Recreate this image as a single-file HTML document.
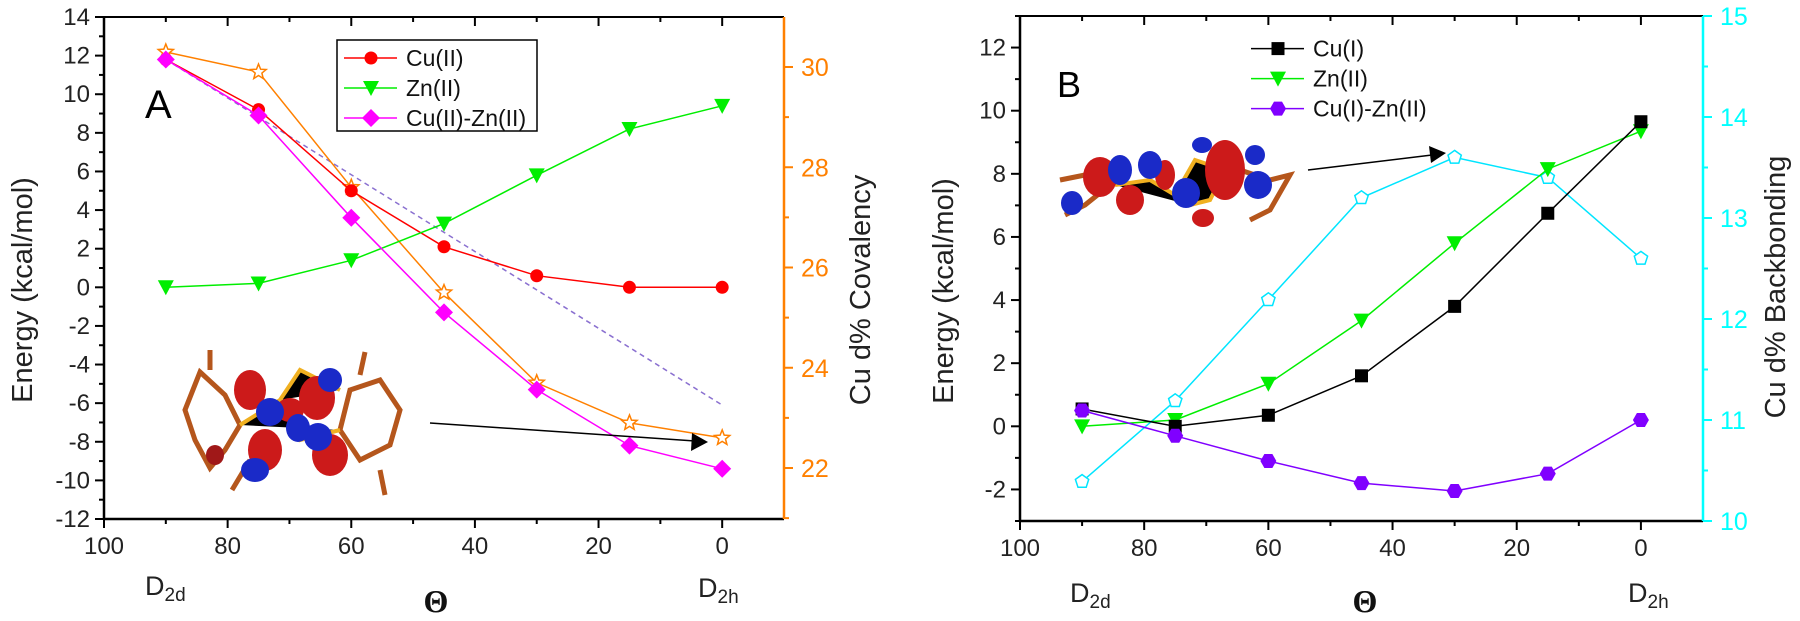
<!DOCTYPE html>
<html><head><meta charset="utf-8"><style>
body{margin:0;background:#fff}
svg{display:block;font-family:"Liberation Sans",sans-serif}
</style></head><body>
<svg id="c" width="1800" height="621" viewBox="0 0 1800 621">
<g id="molA">
 <g stroke="#b5561c" stroke-width="5" fill="none">
  <path d="M200,372 L225,395 L240,425 L225,450 L210,468 L195,440 L185,410 Z"/>
  <path d="M350,390 L380,380 L400,410 L390,445 L360,460 L340,430 Z"/>
  <path d="M210,370 L210,350 M250,460 L232,490 M360,375 L365,352 M380,470 L385,495"/>
 </g>
 <g stroke="#f0b020" stroke-width="4"><path d="M240,425 L280,400 L300,440 L340,430 M280,400 L300,370 L340,390"/></g>
 <ellipse cx="250" cy="390" rx="16" ry="20" fill="#cc1a1a"/>
 <ellipse cx="265" cy="450" rx="17" ry="21" fill="#cc1a1a"/>
 <ellipse cx="317" cy="398" rx="18" ry="22" fill="#cc1a1a"/>
 <ellipse cx="330" cy="455" rx="18" ry="21" fill="#cc1a1a"/>
 <ellipse cx="290" cy="410" rx="14" ry="12" fill="#cc1a1a"/>
 <ellipse cx="270" cy="412" rx="14" ry="14" fill="#1a2ac8"/>
 <ellipse cx="255" cy="470" rx="14" ry="12" fill="#1a2ac8"/>
 <ellipse cx="330" cy="380" rx="12" ry="12" fill="#1a2ac8"/>
 <ellipse cx="318" cy="437" rx="14" ry="14" fill="#1a2ac8"/>
 <ellipse cx="298" cy="428" rx="12" ry="14" fill="#1a2ac8"/>
 <ellipse cx="215" cy="455" rx="9" ry="10" fill="#a01818"/>
</g>
<g id="molB">
 <g stroke="#b5561c" stroke-width="5" fill="none">
  <path d="M1060,180 L1085,175 L1110,185 L1085,205 L1065,215 M1240,170 L1270,180 L1290,175 L1270,210 L1250,220"/>
 </g>
 <g stroke="#f0b020" stroke-width="4"><path d="M1115,185 L1150,180 L1175,195 L1195,160 L1225,170 L1210,200 L1190,205"/></g>
 <ellipse cx="1100" cy="177" rx="17" ry="20" fill="#cc1a1a"/>
 <ellipse cx="1130" cy="200" rx="14" ry="15" fill="#cc1a1a"/>
 <ellipse cx="1225" cy="170" rx="20" ry="30" fill="#cc1a1a"/>
 <ellipse cx="1165" cy="175" rx="10" ry="15" fill="#cc1a1a"/>
 <ellipse cx="1203" cy="218" rx="11" ry="9" fill="#cc1a1a"/>
 <ellipse cx="1072" cy="203" rx="11" ry="12" fill="#1a2ac8"/>
 <ellipse cx="1120" cy="170" rx="12" ry="15" fill="#1a2ac8"/>
 <ellipse cx="1150" cy="165" rx="12" ry="14" fill="#1a2ac8"/>
 <ellipse cx="1186" cy="193" rx="14" ry="15" fill="#1a2ac8"/>
 <ellipse cx="1258" cy="185" rx="14" ry="14" fill="#1a2ac8"/>
 <ellipse cx="1255" cy="155" rx="10" ry="10" fill="#1a2ac8"/>
 <ellipse cx="1202" cy="145" rx="10" ry="8" fill="#1a2ac8"/>
</g>
</svg>
<script>
const theta = [90, 75, 60, 45, 30, 15, 0];
const xTicks = [100, 80, 60, 40, 20, 0];
// Panel A
const cuII = [11.8, 9.2, 5.0, 2.1, 0.6, 0.0, 0.0];
const znIIa = [0.0, 0.2, 1.4, 3.3, 5.8, 8.2, 9.4];
const cuZnA = [11.8, 8.9, 3.6, -1.3, -5.3, -8.2, -9.4];
const covalency = [30.3, 29.9, 27.6, 25.5, 23.7, 22.9, 22.6];
const dashedA = [11.8, -6.1];
const dashedX = [90, 0];
const yTicksA = [14, 12, 10, 8, 6, 4, 2, 0, -2, -4, -6, -8, -10, -12];
const rTicksA = [30, 28, 26, 24, 22];
// Panel B
const cuI = [0.55, 0.0, 0.35, 1.6, 3.8, 6.75, 9.65];
const znIIb = [0.0, 0.2, 1.35, 3.35, 5.8, 8.15, 9.35];
const cuZnB = [0.5, -0.3, -1.1, -1.8, -2.05, -1.5, 0.2];
const backbonding = [10.39, 11.19, 12.19, 13.2, 13.6, 13.4, 12.6];
const yTicksB = [12, 10, 8, 6, 4, 2, 0, -2];
const rTicksB = [15, 14, 13, 12, 11, 10];

const NS = "http://www.w3.org/2000/svg";
const svg = document.getElementById('c');
function mk(tag, attrs, parent, name, inter) {
  const e = document.createElementNS(NS, tag);
  for (const k in attrs) e.setAttribute(k, attrs[k]);
  
  
  (parent || svg).appendChild(e);
  return e;
}
function txt(x, y, s, attrs, name) {
  const t = mk('text', Object.assign({x: x, y: y}, attrs), svg, name, false);
  t.textContent = s;
  return t;
}
function marker(g, type, x, y, color, name) {
  const s = 6.5;
  if (type === 'circle') mk('circle', {cx: x, cy: y, r: s, fill: color}, g, name);
  else if (type === 'square') mk('rect', {x: x - s, y: y - s, width: 2 * s, height: 2 * s, fill: color}, g, name);
  else if (type === 'tri') mk('polygon', {points: `${x-8},${y-7} ${x+8},${y-7} ${x},${y+8}`, fill: color}, g, name);
  else if (type === 'diamond') mk('polygon', {points: `${x},${y-9} ${x+9},${y} ${x},${y+9} ${x-9},${y}`, fill: color}, g, name);
  else if (type === 'hex') mk('polygon', {points: `${x-4},${y-7} ${x+4},${y-7} ${x+8},${y} ${x+4},${y+7} ${x-4},${y+7} ${x-8},${y}`, fill: color}, g, name);
  else if (type === 'star') {
    let p = [];
    for (let i = 0; i < 10; i++) { const r = i % 2 ? 3.5 : 8; const a = -Math.PI / 2 + i * Math.PI / 5; p.push((x + r * Math.cos(a)).toFixed(1) + ',' + (y + r * Math.sin(a)).toFixed(1)); }
    mk('polygon', {points: p.join(' '), fill: '#fff', stroke: color, 'stroke-width': 1.5}, g, name);
  } else if (type === 'pent') {
    let p = [];
    for (let i = 0; i < 5; i++) { const a = -Math.PI / 2 + i * 2 * Math.PI / 5; p.push((x + 7 * Math.cos(a)).toFixed(1) + ',' + (y + 7 * Math.sin(a)).toFixed(1)); }
    mk('polygon', {points: p.join(' '), fill: '#fff', stroke: color, 'stroke-width': 1.5}, g, name);
  }
}
function series(name, xs, ys, sx, sy, color, type, dash) {
  const g = mk('g', {}, svg, name, false);
  const d = xs.map((v, i) => (i ? 'L' : 'M') + sx(v).toFixed(1) + ',' + sy(ys[i]).toFixed(1)).join(' ');
  mk('path', {d: d, fill: 'none', stroke: color, 'stroke-width': dash ? 1.5 : 1.5, 'stroke-dasharray': dash || 'none'}, g, name + '-line');
  if (type) xs.forEach((v, i) => marker(g, type, sx(v), sy(ys[i]), color, name + '-point'));
}
function lin(d0, d1, r0, r1) { return v => r0 + (v - d0) * (r1 - r0) / (d1 - d0); }

function axes(P) {
  const {L, R, T, B, sx, sy, sr, yT, yMinor, rT, rMinor, rColor, pfx} = P;
  // frame
  mk('line', {x1: L, y1: T, x2: R, y2: T, stroke: '#000', 'stroke-width': 2}, svg, pfx + '-top-axis');
  mk('line', {x1: L, y1: B, x2: R, y2: B, stroke: '#000', 'stroke-width': 2.5}, svg, pfx + '-x-axis');
  mk('line', {x1: L, y1: T, x2: L, y2: B, stroke: '#000', 'stroke-width': 2.5}, svg, pfx + '-y-axis');
  mk('line', {x1: R, y1: T, x2: R, y2: B, stroke: rColor, 'stroke-width': 2.5}, svg, pfx + '-right-axis');
  for (let v = 100; v >= -10; v -= 10) {
    const x = sx(v); if (x > R - 2) continue;
    const len = v % 20 === 0 ? 9 : 5;
    mk('line', {x1: x, y1: B, x2: x, y2: B + len, stroke: '#000', 'stroke-width': 2}, svg, pfx + '-x-tick');
    mk('line', {x1: x, y1: T, x2: x, y2: T + len, stroke: '#000', 'stroke-width': 2}, svg, pfx + '-top-tick');
  }
  xTicks.forEach(v => txt(sx(v), B + 35, String(v), {'font-size': 24, 'text-anchor': 'middle', fill: '#222'}, pfx + '-x-tick-label'));
  yMinor.forEach(v => mk('line', {x1: L - 5, y1: sy(v), x2: L, y2: sy(v), stroke: '#000', 'stroke-width': 2}, svg, pfx + '-y-minor-tick'));
  yT.forEach(v => {
    mk('line', {x1: L - 9, y1: sy(v), x2: L, y2: sy(v), stroke: '#000', 'stroke-width': 2}, svg, pfx + '-y-tick');
    txt(L - 14, sy(v) + 8, String(v), {'font-size': 24, 'text-anchor': 'end', fill: '#222'}, pfx + '-y-tick-label');
  });
  rMinor.forEach(v => mk('line', {x1: R, y1: sr(v), x2: R + 5, y2: sr(v), stroke: rColor, 'stroke-width': 2}, svg, pfx + '-right-minor-tick'));
  rT.forEach(v => {
    mk('line', {x1: R, y1: sr(v), x2: R + 9, y2: sr(v), stroke: rColor, 'stroke-width': 2}, svg, pfx + '-right-tick');
    txt(R + 17, sr(v) + 9, String(v), {'font-size': 25, fill: rColor}, pfx + '-right-tick-label');
  });
}

// ---------- Panel A ----------
const AL = 104, AR = 784, AT = 17, AB = 519;
const sxA = lin(100, -10, AL, AR), syA = lin(14, -12, AT, AB), srA = lin(30, 22, 67, 468);
const minA = []; for (let v = 13; v > -12; v -= 2) minA.push(v);
const rMinA = [31, 29, 27, 25, 23, 21].filter(v => srA(v) > AT && srA(v) < AB);
axes({L: AL, R: AR, T: AT, B: AB, sx: sxA, sy: syA, sr: srA, yT: yTicksA, yMinor: minA, rT: rTicksA, rMinor: rMinA, rColor: '#ff8000', pfx: 'panel-a'});
series('dashed-trend-a', dashedX, dashedA, sxA, syA, '#8a70d0', null, '5,4');
series('cu2-covalency-series', theta, covalency, sxA, srA, '#ff8000', 'star');
series('cu2-series', theta, cuII, sxA, syA, '#ff0000', 'circle');
series('zn2-series-a', theta, znIIa, sxA, syA, '#00ee00', 'tri');
series('cu2-zn2-series', theta, cuZnA, sxA, syA, '#ff00ff', 'diamond');
// arrow A
mk('line', {x1: 430, y1: 423, x2: 695, y2: 441, stroke: '#000', 'stroke-width': 1.5}, svg, 'arrow-a-shaft');
mk('polygon', {points: '708,442 692,433 691,451', fill: '#000'}, svg, 'arrow-a-head');
// legend A
mk('rect', {x: 337, y: 40, width: 200, height: 91, fill: '#fff', stroke: '#000', 'stroke-width': 1.5}, svg, 'legend-a-box');
const legA = [['Cu(II)', '#ff0000', 'circle'], ['Zn(II)', '#00ee00', 'tri'], ['Cu(II)-Zn(II)', '#ff00ff', 'diamond']];
legA.forEach((e, i) => {
  const y = 58 + i * 30;
  mk('line', {x1: 344, y1: y, x2: 397, y2: y, stroke: e[1], 'stroke-width': 1.5}, svg, 'legend-a-swatch');
  marker(svg, e[2], 371, y, e[1], 'legend-a-marker');
  txt(406, y + 8, e[0], {'font-size': 23, fill: '#111'}, 'legend-a-entry');
});
txt(145, 118, 'A', {'font-size': 40, fill: '#000'}, 'panel-a-label');
txt(32, 290, 'Energy (kcal/mol)', {'font-size': 29, 'text-anchor': 'middle', transform: 'rotate(-90 32 290)', fill: '#222'}, 'panel-a-y-axis-title');
txt(870, 290, 'Cu d% Covalency', {'font-size': 29, 'text-anchor': 'middle', transform: 'rotate(-90 870 290)', fill: '#222'}, 'panel-a-right-axis-title');
let t = txt(145, 595, 'D', {'font-size': 27, fill: '#222'}, 'panel-a-d2d-label'); t.innerHTML = 'D<tspan font-size="19" dy="6">2d</tspan>';
t = txt(698, 597, 'D', {'font-size': 27, fill: '#222'}, 'panel-a-d2h-label'); t.innerHTML = 'D<tspan font-size="19" dy="6">2h</tspan>';
txt(436, 612, 'Θ', {'font-size': 32, 'text-anchor': 'middle', 'font-family': 'Liberation Serif, serif', 'font-weight': 'bold', fill: '#111'}, 'panel-a-x-axis-title');

// ---------- Panel B ----------
const BL = 1020, BR = 1703, BT = 16, BB = 521;
const sxB = lin(100, -10, BL, BR), syB = lin(13, -3, BT, BB), srB = lin(15, 10, 16, 521);
const minB = [13, 11, 9, 7, 5, 3, 1, -1, -3];
const rMinB = [14.5, 13.5, 12.5, 11.5, 10.5];
axes({L: BL, R: BR, T: BT, B: BB, sx: sxB, sy: syB, sr: srB, yT: yTicksB, yMinor: minB, rT: rTicksB, rMinor: rMinB, rColor: '#00ffff', pfx: 'panel-b'});
series('backbonding-series', theta, backbonding, sxB, srB, '#00e5ff', 'pent');
series('zn2-series-b', theta, znIIb, sxB, syB, '#00ee00', 'tri');
series('cu1-series', theta, cuI, sxB, syB, '#000000', 'square');
series('cu1-zn2-series', theta, cuZnB, sxB, syB, '#8000ff', 'hex');
mk('line', {x1: 1308, y1: 170, x2: 1432, y2: 155, stroke: '#000', 'stroke-width': 1.5}, svg, 'arrow-b-shaft');
mk('polygon', {points: '1446,153 1429,146 1431,163', fill: '#000'}, svg, 'arrow-b-head');
const legB = [['Cu(I)', '#000000', 'square'], ['Zn(II)', '#00ee00', 'tri'], ['Cu(I)-Zn(II)', '#8000ff', 'hex']];
legB.forEach((e, i) => {
  const y = 48.6 + i * 30;
  mk('line', {x1: 1251, y1: y, x2: 1304, y2: y, stroke: e[1], 'stroke-width': 1.5}, svg, 'legend-b-swatch');
  marker(svg, e[2], 1278, y, e[1], 'legend-b-marker');
  txt(1313, y + 8, e[0], {'font-size': 23, fill: '#111'}, 'legend-b-entry');
});
txt(1057, 97, 'B', {'font-size': 36, fill: '#000'}, 'panel-b-label');
txt(953, 291, 'Energy (kcal/mol)', {'font-size': 29, 'text-anchor': 'middle', transform: 'rotate(-90 953 291)', fill: '#222'}, 'panel-b-y-axis-title');
txt(1785, 287, 'Cu d% Backbonding', {'font-size': 29, 'text-anchor': 'middle', transform: 'rotate(-90 1785 287)', fill: '#222'}, 'panel-b-right-axis-title');
t = txt(1070, 602, 'D', {'font-size': 27, fill: '#222'}, 'panel-b-d2d-label'); t.innerHTML = 'D<tspan font-size="19" dy="6">2d</tspan>';
t = txt(1628, 602, 'D', {'font-size': 27, fill: '#222'}, 'panel-b-d2h-label'); t.innerHTML = 'D<tspan font-size="19" dy="6">2h</tspan>';
txt(1365, 612, 'Θ', {'font-size': 32, 'text-anchor': 'middle', 'font-family': 'Liberation Serif, serif', 'font-weight': 'bold', fill: '#111'}, 'panel-b-x-axis-title');
</script>
</body></html>
